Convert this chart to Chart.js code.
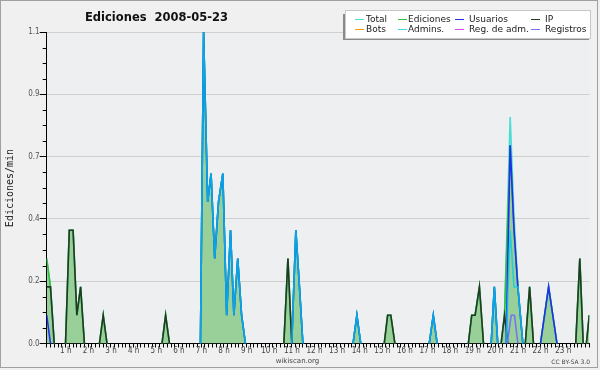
<!DOCTYPE html>
<html lang="es">
<head>
<meta charset="UTF-8">
<title>Ediciones 2008-05-23</title>
<script src="https://cdn.jsdelivr.net/npm/chart.js"></script>
<style>
  body { margin: 0; background: #f0f0f0; }
  #grafico { display: block; }
</style>
</head>
<body>
<canvas id="grafico" width="600" height="370"></canvas>
<script>
// horas del dia (decimales) y ediciones/min ; null = hueco entre tramos
const totalHoras = [0, 0.167, 0.333, null, 0.833, 1.0, 1.167, 1.333, 1.5, 1.667, null, 2.333, 2.5, 2.667, null, 5.1, 5.26, 5.43, null, 6.8, 6.94, 7.12, 7.27, 7.43, 7.6, 7.79, 7.96, 8.13, 8.28, 8.45, 8.62, 8.79, null, 10.49, 10.67, 10.84, 11.02, 11.18, 11.33, null, 13.55, 13.72, 13.89, null, 14.93, 15.08, 15.22, 15.4, null, 16.92, 17.1, 17.27, null, 18.65, 18.8, 18.95, 19.14, 19.32, null, 19.66, 19.8, 19.95, null, 20.1, 20.25, 20.5, 20.67, 20.84, 21.06, null, 21.17, 21.36, 21.53, null, 21.84, 22.2, 22.57, null, 23.4, 23.58, 23.73, null, 23.87, 24];
const totalValores = [0.3, 0.2, 0, null, 0, 0.4, 0.4, 0.1, 0.2, 0, null, 0, 0.1, 0, null, 0, 0.1, 0, null, 0, 1.1, 0.5, 0.6, 0.3, 0.5, 0.6, 0.1, 0.4, 0.1, 0.3, 0.1, 0, null, 0, 0.3, 0, 0.4, 0.2, 0, null, 0, 0.1, 0, null, 0, 0.1, 0.1, 0, null, 0, 0.1, 0, null, 0, 0.1, 0.1, 0.2, 0, null, 0, 0.2, 0, null, 0, 0.1, 0.8, 0.45, 0.2, 0, null, 0, 0.2, 0, null, 0, 0.2, 0, null, 0, 0.3, 0, null, 0, 0.1];

const edicionesHoras = [0, 0.167, 0.333, null, 0.833, 1.0, 1.167, 1.333, 1.5, 1.667, null, 2.333, 2.5, 2.667, null, 5.1, 5.26, 5.43, null, 6.8, 6.94, 7.12, 7.27, 7.43, 7.6, 7.79, 7.96, 8.13, 8.28, 8.45, 8.62, 8.79, null, 10.49, 10.67, 10.84, 11.02, 11.18, 11.33, null, 13.55, 13.72, 13.89, null, 14.93, 15.08, 15.22, 15.4, null, 16.92, 17.1, 17.27, null, 18.65, 18.8, 18.95, 19.14, 19.32, null, 19.66, 19.8, 19.95, null, 20.1, 20.25, 20.5, 20.67, 20.84, 21.06, null, 21.17, 21.36, 21.53, null, 21.84, 22.2, 22.57, null, 23.4, 23.58, 23.73, null, 23.87, 24];
const edicionesValores = [0.3, 0.2, 0, null, 0, 0.4, 0.4, 0.1, 0.2, 0, null, 0, 0.1, 0, null, 0, 0.1, 0, null, 0, 1.1, 0.5, 0.6, 0.3, 0.5, 0.6, 0.1, 0.4, 0.1, 0.3, 0.1, 0, null, 0, 0.3, 0, 0.4, 0.2, 0, null, 0, 0.1, 0, null, 0, 0.1, 0.1, 0, null, 0, 0.1, 0, null, 0, 0.1, 0.1, 0.2, 0, null, 0, 0.2, 0, null, 0, 0.1, 0.7, 0.4, 0.2, 0, null, 0, 0.2, 0, null, 0, 0.2, 0, null, 0, 0.3, 0, null, 0, 0.1];

const usuariosHoras = [0, 0.167, null, 6.8, 6.94, 7.12, 7.27, 7.43, 7.6, 7.79, 7.96, 8.13, 8.28, 8.45, 8.62, 8.79, null, 10.84, 11.02, 11.18, 11.33, null, 13.55, 13.72, 13.89, null, 16.92, 17.1, 17.27, null, 19.66, 19.8, 19.95, null, 20.32, 20.5, 20.67, 20.84, 21.06, null, 21.84, 22.2, 22.57];
const usuariosValores = [0.1, 0, null, 0, 1.1, 0.5, 0.6, 0.3, 0.5, 0.6, 0.1, 0.4, 0.1, 0.3, 0.1, 0, null, 0, 0.4, 0.2, 0, null, 0, 0.1, 0, null, 0, 0.1, 0, null, 0, 0.2, 0, null, 0, 0.7, 0.4, 0.2, 0, null, 0, 0.2, 0];

const ipHoras = [0, 0.167, 0.333, null, 0.833, 1.0, 1.167, 1.333, 1.5, 1.667, null, 2.333, 2.5, 2.667, null, 5.1, 5.26, 5.43, null, 10.49, 10.67, 10.84, null, 14.93, 15.08, 15.22, 15.4, null, 18.65, 18.8, 18.95, 19.14, 19.32, null, 20.1, 20.25, 20.4, null, 21.17, 21.36, 21.53, null, 23.4, 23.58, 23.73, null, 23.87, 24];
const ipValores = [0.2, 0.2, 0, null, 0, 0.4, 0.4, 0.1, 0.2, 0, null, 0, 0.1, 0, null, 0, 0.1, 0, null, 0, 0.3, 0, null, 0, 0.1, 0.1, 0, null, 0, 0.1, 0.1, 0.2, 0, null, 0, 0.1, 0, null, 0, 0.2, 0, null, 0, 0.3, 0, null, 0, 0.1];

const botsHoras = [];
const botsValores = [];

const adminsHoras = [6.8, 6.94, 7.12, 7.27, 7.43, 7.6, 7.79, 7.96, 8.13, 8.28, 8.45, 8.62, 8.79, null, 10.84, 11.02, 11.18, 11.33, null, 13.55, 13.72, 13.89, null, 16.92, 17.1, 17.27, null, 19.66, 19.8, 19.95, null, 20.32, 20.5, 20.67, 20.84, 21.06];
const adminsValores = [0, 1.1, 0.5, 0.6, 0.3, 0.5, 0.6, 0.1, 0.4, 0.1, 0.3, 0.1, 0, null, 0, 0.4, 0.2, 0, null, 0, 0.1, 0, null, 0, 0.1, 0, null, 0, 0.2, 0, null, 0, 0.4, 0.2, 0.2, 0];

const regAdmHoras = [];
const regAdmValores = [];

const registrosHoras = [20.37, 20.55, 20.69, 20.84];
const registrosValores = [0, 0.1, 0.1, 0];

// ejes
const xTickLabels = ['1 h', '2 h', '3 h', '4 h', '5 h', '6 h', '7 h', '8 h', '9 h', '10 h', '11 h', '12 h', '13 h', '14 h', '15 h', '16 h', '17 h', '18 h', '19 h', '20 h', '21 h', '22 h', '23 h'];
const yTickValues = [0, 0.22, 0.44, 0.66, 0.88, 1.1];
const yTickLabels = ['0.0', '0.2', '0.4', '0.7', '0.9', '1.1'];

function puntos(horas, valores) {
    return horas.map((h, i) => ({ x: h === null ? horas[i - 1] : h, y: valores[i] }));
}

function serie(label, horas, valores, color, orden) {
    return {
        label: label,
        data: puntos(horas, valores),
        borderColor: color,
        backgroundColor: color,
        borderWidth: 1.6,
        pointRadius: 0,
        tension: 0,
        spanGaps: false,
        fill: false,
        order: orden
    };
}

const ediciones = serie('Ediciones', edicionesHoras, edicionesValores, '#3bbb3b', 8);
ediciones.fill = 'origin';
ediciones.backgroundColor = '#99cf99';

const datasets = [
    serie('Total', totalHoras, totalValores, '#4cdcd6', 9),
    ediciones,
    serie('Usuarios', usuariosHoras, usuariosValores, '#1e2ff0', 5),
    serie('IP', ipHoras, ipValores, '#233a23', 6),
    serie('Bots', botsHoras, botsValores, '#ffa200', 4),
    serie('Admins.', adminsHoras, adminsValores, 'rgba(0,205,235,0.75)', 3),
    serie('Reg. de adm.', regAdmHoras, regAdmValores, '#dd44ee', 2),
    serie('Registros', registrosHoras, registrosValores, '#7474f4', 1)
];

// columnas de la leyenda (inicio de la linea, inicio del texto)
const leyendaCols = [[355, 366], [398, 408], [455, 469], [531, 545]];

const decorado = {
    id: 'decorado',
    beforeDraw(chart) {
        const ctx = chart.ctx, a = chart.chartArea;
        ctx.save();
        ctx.fillStyle = '#f0f0f0';
        ctx.fillRect(0, 0, chart.width, chart.height);
        ctx.fillStyle = '#edeff1';
        ctx.fillRect(a.left, a.top, a.right - a.left, a.bottom - a.top);
        ctx.restore();
    },
    afterDraw(chart) {
        const ctx = chart.ctx, a = chart.chartArea, y = chart.scales.y;
        ctx.save();

        // marcas menores del eje y
        ctx.strokeStyle = '#000';
        ctx.lineWidth = 1;
        for (let k = 0; k < yTickValues.length - 1; k++) {
            for (let m = 1; m < 4; m++) {
                const v = yTickValues[k] + (yTickValues[k + 1] - yTickValues[k]) * m / 4;
                const py = Math.round(y.getPixelForValue(v)) + 0.5;
                ctx.beginPath();
                ctx.moveTo(a.left - 4, py);
                ctx.lineTo(a.left, py);
                ctx.stroke();
            }
        }

        // titulo
        ctx.fillStyle = '#111';
        ctx.font = "bold 11.5px 'DejaVu Sans'";
        ctx.textBaseline = 'alphabetic';
        ctx.textAlign = 'left';
        ctx.fillText('Ediciones  2008-05-23', 85, 21);

        // titulo eje y
        ctx.save();
        ctx.translate(10, 188);
        ctx.rotate(-Math.PI / 2);
        ctx.textAlign = 'center';
        ctx.textBaseline = 'middle';
        ctx.font = "10px 'DejaVu Sans Mono'";
        ctx.fillStyle = '#222';
        ctx.fillText('Ediciones/min', 0, 0);
        ctx.restore();

        // leyenda
        ctx.fillStyle = '#8a8a8a';
        ctx.fillRect(343, 14, 246, 26);
        ctx.fillStyle = '#ffffff';
        ctx.fillRect(345, 10, 246, 29);
        ctx.strokeStyle = '#c8c8c8';
        ctx.strokeRect(345.5, 10.5, 245, 28);
        ctx.font = "9px 'DejaVu Sans'";
        ctx.textBaseline = 'middle';
        ctx.textAlign = 'left';
        chart.data.datasets.forEach((ds, i) => {
            const col = leyendaCols[i % 4];
            const fila = i < 4 ? 19.5 : 29.5;
            ctx.strokeStyle = ds.borderColor;
            ctx.lineWidth = 1;
            ctx.beginPath();
            ctx.moveTo(col[0], fila);
            ctx.lineTo(col[0] + 9, fila);
            ctx.stroke();
            ctx.fillStyle = '#1a1a1a';
            ctx.fillText(ds.label, col[1], fila);
        });

        // pie
        ctx.fillStyle = '#444';
        ctx.textAlign = 'center';
        ctx.font = "7px 'DejaVu Sans'";
        ctx.fillText('wikiscan.org', 297.5, 361.5);
        ctx.textAlign = 'right';
        ctx.font = "6px 'DejaVu Sans'";
        ctx.fillText('CC BY-SA 3.0', 590, 362);

        // marco
        ctx.strokeStyle = '#a0a0a0';
        ctx.lineWidth = 1;
        ctx.strokeRect(0.5, 0.5, 597, 367);
        ctx.restore();
    }
};

new Chart(document.getElementById('grafico'), {
    type: 'line',
    data: { datasets: datasets },
    options: {
        responsive: false,
        animation: false,
        devicePixelRatio: 1,
        layout: { padding: { left: 0, top: 32, right: 10.7, bottom: 0 } },
        plugins: {
            legend: { display: false },
            title: { display: false },
            tooltip: { enabled: false },
            filler: { drawTime: 'beforeDatasetsDraw' }
        },
        scales: {
            x: {
                type: 'linear',
                min: 0,
                max: 24,
                afterFit(scale) { scale.height = 26.5; },
                afterBuildTicks(scale) {
                    const t = [];
                    for (let i = 0; i <= 144; i++) t.push({ value: i / 6 });
                    scale.ticks = t;
                },
                grid: { drawOnChartArea: false, tickLength: 4, tickColor: '#000' },
                border: { color: '#000', width: 1 },
                ticks: {
                    autoSkip: false,
                    maxRotation: 0,
                    minRotation: 0,
                    padding: -1,
                    labelOffset: -3.5,
                    color: '#444',
                    font: { family: "'DejaVu Sans Condensed', 'DejaVu Sans'", size: 8 },
                    callback(v) {
                        const h = Math.round(v * 6);
                        if (h % 6 !== 0) return '';
                        return xTickLabels[h / 6 - 1] || '';
                    }
                }
            },
            y: {
                min: 0,
                max: 1.1,
                afterFit(scale) { scale.width = 46.7; },
                afterBuildTicks(scale) {
                    scale.ticks = yTickValues.map(v => ({ value: v }));
                },
                grid: {
                    color: ctx => ctx.tick && ctx.tick.value === 0 ? 'rgba(0,0,0,0)' : '#cfcfcf',
                    tickColor: '#000',
                    tickLength: 7
                },
                border: { color: '#000', width: 1 },
                ticks: {
                    padding: 0,
                    color: '#555',
                    font: { family: "'DejaVu Sans Condensed', 'DejaVu Sans'", size: 8 },
                    callback(v, i) { return yTickLabels[i]; }
                }
            }
        }
    },
    plugins: [decorado]
});
</script>
</body>
</html>
